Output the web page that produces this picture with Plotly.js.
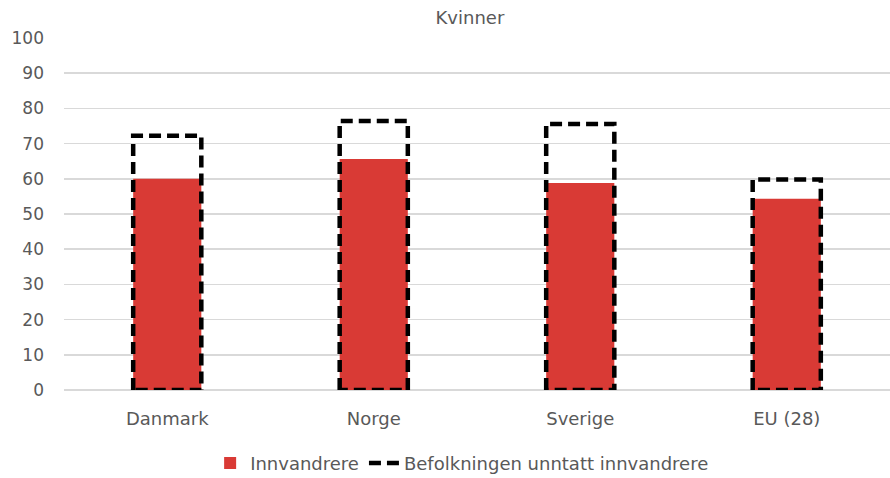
<!DOCTYPE html>
<html>
<head>
<meta charset="utf-8">
<script src="https://cdn.plot.ly/plotly-3.0.1.min.js"></script>
<style>html,body{margin:0;padding:0;background:#fff;}#chart{width:890px;height:478px;}</style>
</head>
<body>
<div id="chart"></div>
<script>
const categories = ["Danmark", "Norge", "Sverige", "EU (28)"];
const innvandrere = [60, 65.6, 58.8, 54.3];
const befolkningen = [72.2, 76.4, 75.6, 59.8];
const yTicks = [0, 10, 20, 30, 40, 50, 60, 70, 80, 90, 100];

const barWidth = 0.33;
const idx = categories.map((c, i) => i);

// dashed outline path built from data values
const ox = [], oy = [];
befolkningen.forEach((v, i) => {
  const l = i - barWidth / 2, r = i + barWidth / 2;
  ox.push(l, l, r, r, l, null);
  oy.push(0, v, v, 0, 0, null);
});

const font = "DejaVu Sans, Verdana, sans-serif";
const grey = "#595959";

const traces = [
  {
    type: "bar", x: idx, y: innvandrere, width: barWidth,
    name: "Innvandrere",
    marker: {color: "#D93A35", line: {width: 0}},
    hoverinfo: "y"
  },
  {
    type: "scatter", mode: "lines", x: ox, y: oy,
    name: "Befolkningen unntatt innvandrere",
    line: {color: "#000", width: 4.5, dash: "12px,6px"},
    connectgaps: false, hoverinfo: "skip"
  }
];

const layout = {
  width: 890, height: 478,
  margin: {l: 64, r: 0, t: 38, b: 88, autoexpand: false},
  paper_bgcolor: "#fff", plot_bgcolor: "#fff",
  font: {family: font, color: grey, size: 18},
  title: {text: "Kvinner", x: 0.528, xanchor: "center", y: 0.964, yanchor: "middle",
          font: {family: font, size: 18, color: grey}},
  xaxis: {
    range: [-0.5, 3.5], tickvals: idx, ticktext: categories,
    showgrid: false, zeroline: false, showline: false, ticks: "",
    ticklabelstandoff: 16, automargin: false,
    tickfont: {family: font, size: 18, color: grey}, fixedrange: true
  },
  yaxis: {
    range: [0, 100], tickvals: yTicks, ticks: "",
    showgrid: true, gridcolor: "#d9d9d9", gridwidth: 1.5,
    zeroline: true, zerolinecolor: "#d9d9d9", zerolinewidth: 1.5,
    showline: false, ticklabelstandoff: 19, automargin: false,
    tickfont: {family: font, size: 17, color: grey}, fixedrange: true
  },
  barmode: "overlay",
  showlegend: true,
  legend: {
    orientation: "h", x: 0.482, xanchor: "center",
    yref: "container", y: 0.031, yanchor: "middle",
    font: {family: font, size: 18, color: grey}, itemwidth: 30, tracegroupgap: 0
  }
};

Plotly.newPlot("chart", traces, layout, {displayModeBar: false, staticPlot: true});
</script>
</body>
</html>
